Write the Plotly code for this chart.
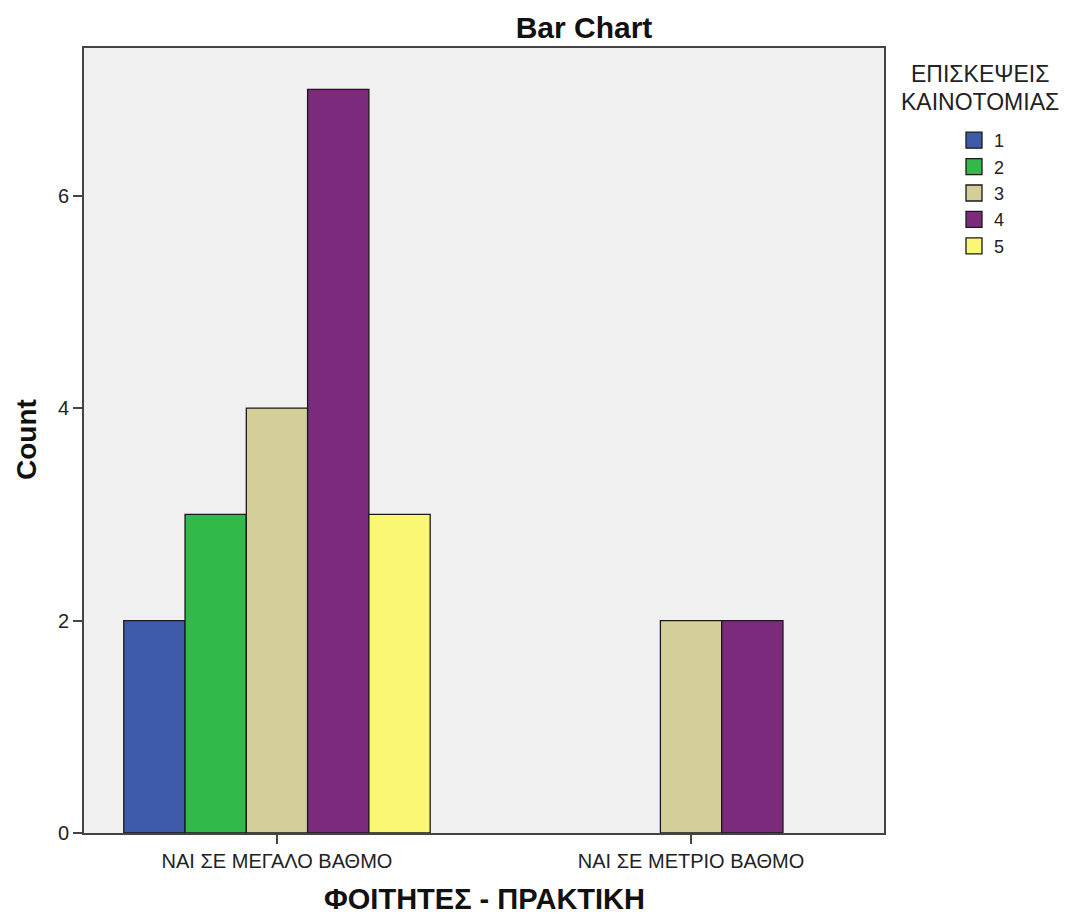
import plotly.graph_objects as go

# ---- data ----
categories = ["ΝΑΙ ΣΕ ΜΕΓΑΛΟ ΒΑΘΜΟ", "ΝΑΙ ΣΕ ΜΕΤΡΙΟ ΒΑΘΜΟ"]
series_names = ["1", "2", "3", "4", "5"]
counts_1 = [2, 0]
counts_2 = [3, 0]
counts_3 = [4, 2]
counts_4 = [7, 2]
counts_5 = [3, 0]
y_tick_values = [0, 2, 4, 6]
legend_title_lines = ["ΕΠΙΣΚΕΨΕΙΣ", "ΚΑΙΝΟΤΟΜΙΑΣ"]
x_title = "ΦΟΙΤΗΤΕΣ - ΠΡΑΚΤΙΚΗ"
y_title = "Count"

series_values = [counts_1, counts_2, counts_3, counts_4, counts_5]
colors = ["#3F59AB", "#31B94A", "#D4CF99", "#7B2A7C", "#FAF774"]

FONT = "Liberation Sans, Arial, sans-serif"
W, H = 1062, 910          # page body has an 8px margin in the 1070x918 window
L, R, T, B = 76, 186, 40, 85
PW, PH = W - L - R, H - T - B


def px_x(x):   # figure pixel -> paper x
    return (x - L) / PW


def px_y(y):   # figure pixel (from top) -> paper y
    return (T + PH - y) / PH


fig = go.Figure()
for name, vals, col in zip(series_names, series_values, colors):
    fig.add_trace(go.Bar(
        name=name, x=categories, y=vals, showlegend=False,
        marker=dict(color=col,
                    line=dict(color="#1a1a1a", width=[1.3 if v > 0 else 0 for v in vals])),
    ))
    # legend entry (larger square swatch, like the reference)
    fig.add_trace(go.Scatter(
        name=name, x=[None], y=[None], mode="markers", showlegend=True,
        marker=dict(symbol="square", size=16, color=col, line=dict(color="#1a1a1a", width=1.3)),
    ))

annotations = []
for i, line in enumerate(legend_title_lines):
    y_px = [66, 94][i]
    annotations.append(dict(text=line, xref="paper", yref="paper",
                            x=px_x(972), y=px_y(y_px),
                            xanchor="center", yanchor="middle", showarrow=False,
                            font=dict(size=23, color="#222222", family=FONT)))
annotations.append(dict(text="<b>%s</b>" % x_title, xref="paper", yref="paper",
                        x=px_x(476), y=px_y(891), xanchor="center", yanchor="middle",
                        showarrow=False, font=dict(size=29, color="#111111", family=FONT)))
annotations.append(dict(text="<b>%s</b>" % y_title, xref="paper", yref="paper",
                        x=px_x(18), y=px_y(432), xanchor="center", yanchor="middle",
                        textangle=-90, showarrow=False,
                        font=dict(size=28, color="#111111", family=FONT)))

fig.update_layout(
    width=W, height=H,
    barmode="group", bargap=0.26, bargroupgap=0,
    paper_bgcolor="white", plot_bgcolor="#F0F0F0",
    margin=dict(l=L, r=R, t=T, b=B, autoexpand=False),
    font=dict(family=FONT, color="#222222"),
    title=dict(text="<b>Bar Chart</b>", x=576/W, xref="container", xanchor="center",
               y=1 - 19/H, yref="container", yanchor="middle",
               font=dict(size=30, color="#111111", family=FONT)),
    showlegend=True,
    legend=dict(x=px_x(946), xanchor="left", y=px_y(114), yanchor="top",
                font=dict(size=18, color="#222222", family=FONT),
                bgcolor="rgba(0,0,0,0)", tracegroupgap=0, itemclick=False),
    annotations=annotations,
)

fig.update_xaxes(
    type="category", range=[-0.466, 1.466], automargin=False,
    showline=True, linecolor="#444444", linewidth=2, mirror=True,
    ticks="outside", ticklen=9, tickcolor="#444444", tickwidth=2,
    tickfont=dict(size=20, color="#222222"),
    showgrid=False, zeroline=False,
)
fig.update_yaxes(
    range=[0, 7.39], tickvals=y_tick_values, automargin=False,
    showline=True, linecolor="#444444", linewidth=2, mirror=True,
    ticks="outside", ticklen=9, tickcolor="#444444", tickwidth=2,
    tickfont=dict(size=20, color="#222222"),
    showgrid=False, zeroline=False,
)

fig.write_html("out.html")
